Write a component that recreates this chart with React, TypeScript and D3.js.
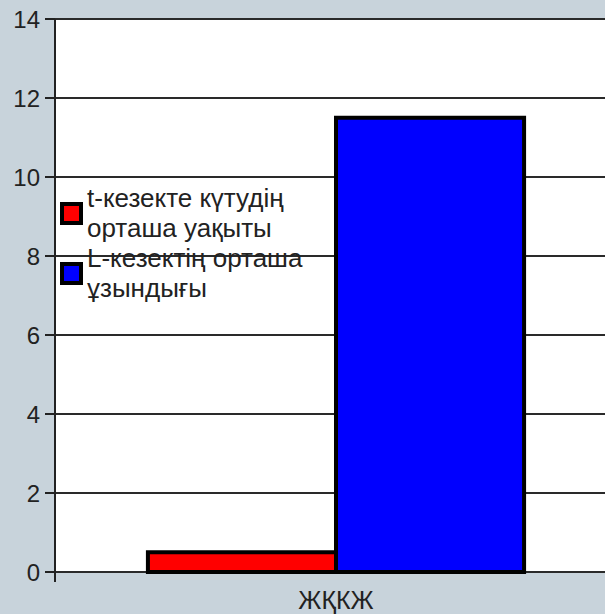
import React from "react";
import * as d3 from "d3";

const categories = ["ЖҚКЖ"];
const seriesNames = ["t-кезекте күтудің орташа уақыты", "L-кезектің орташа ұзындығы"];
const seriesLegendLines = [["t-кезекте күтудің", "орташа уақыты"], ["L-кезектің орташа", "ұзындығы"]];
const seriesColors = ["#ff0000", "#0000ff"];
const seriesValues = [[0.5], [11.5]];
const yTicks = [0, 2, 4, 6, 8, 10, 12, 14];

export default function App() {
  const W = 605, H = 614;
  const left = 55, top = 19, bottom = 572, right = 617;
  const y = d3.scaleLinear().domain([0, 14]).range([bottom, top]);
  const x0 = d3.scaleBand().domain(categories).range([left, right]).paddingInner(0).paddingOuter(0.247);
  const x1 = d3.scaleBand().domain(seriesNames.map((_, i) => String(i))).range([0, x0.bandwidth()]).padding(0);
  const font = "'Liberation Sans', Arial, sans-serif";
  return (
    <svg width={W} height={H} style={{ position: "absolute", left: 0, top: 0 }}>
      <rect x={0} y={0} width={W} height={H} fill="#c8d3db" />
      <rect x={left} y={top} width={right - left} height={bottom - top} fill="#ffffff" />
      {yTicks.map((t) => (
        <g key={t}>
          <line x1={left} x2={right} y1={y(t)} y2={y(t)} stroke="#2a2a2a" strokeWidth={2} />
          <line x1={left - 10} x2={left} y1={y(t)} y2={y(t)} stroke="#222" strokeWidth={2} />
          <text x={left - 15} y={y(t)} dy="0.36em" textAnchor="end" fontFamily={font} fontSize={24} fill="#222">{t}</text>
        </g>
      ))}
      {categories.map((c, ci) => (
        <g key={c}>
          {seriesValues.map((vals, si) => {
            const bx = (x0(c) as number) + (x1(String(si)) as number);
            const v = vals[ci];
            return (
              <rect key={si} x={bx} y={y(v)} width={x1.bandwidth()} height={y(0) - y(v)} fill={seriesColors[si]} stroke="#000" strokeWidth={4} />
            );
          })}
          <text x={(x0(c) as number) + x0.bandwidth() / 2} y={609} textAnchor="middle" fontFamily={font} fontSize={25} fill="#222">{c}</text>
        </g>
      ))}
      <line x1={left} x2={left} y1={top} y2={bottom + 10} stroke="#222" strokeWidth={2} />
      {seriesLegendLines.map((lines, si) => {
        const baseY = 207 + si * 60;
        return (
          <g key={si}>
            <rect x={62} y={baseY - 3} width={19} height={19} fill={seriesColors[si]} stroke="#000" strokeWidth={4} />
            {lines.map((ln, li) => (
              <text key={li} x={87} y={baseY + li * 30} fontFamily={font} fontSize={26} fill="#222">{ln}</text>
            ))}
          </g>
        );
      })}
    </svg>
  );
}
